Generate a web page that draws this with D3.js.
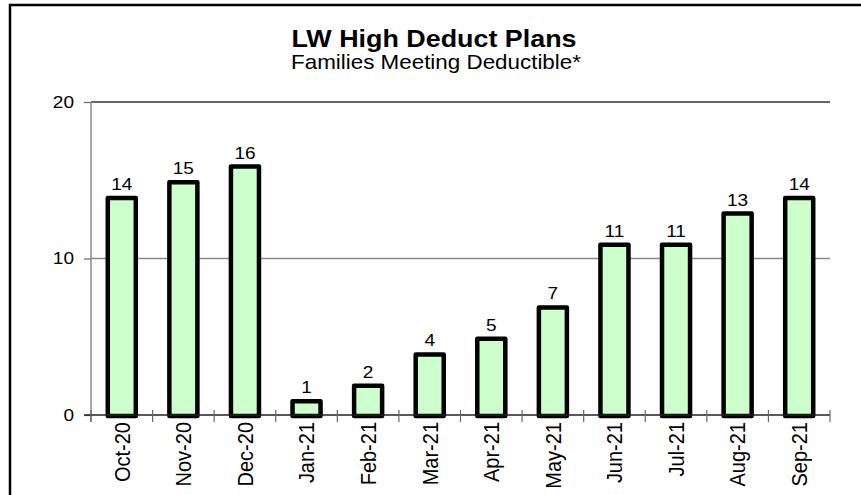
<!DOCTYPE html>
<html>
<head>
<meta charset="utf-8">
<script src="https://cdn.jsdelivr.net/npm/d3@7"></script>
<style>
  body { margin: 0; background: #fff; }
  text { font-family: "Liberation Sans", Arial, sans-serif; fill: #000; }
</style>
</head>
<body>
<div id="chart"></div>
<script>
// data
const months = ["Oct-20", "Nov-20", "Dec-20", "Jan-21", "Feb-21", "Mar-21",
                "Apr-21", "May-21", "Jun-21", "Jul-21", "Aug-21", "Sep-21"];
const families = [14, 15, 16, 1, 2, 4, 5, 7, 11, 11, 13, 14];
const yTicks = [0, 10, 20];

const titleText = "LW High Deduct Plans";
const subtitleText = "Families Meeting Deductible*";

const svgWidth = 861;
const svgHeight = 495;
const margin = { top: 102, right: 31, bottom: 80, left: 91 };
const width = svgWidth - margin.left - margin.right;
const height = svgHeight - margin.top - margin.bottom;
const barFill = "#ccffcc";
const stretch = 1.12; // text in the reference is a bit wider than tall

const root = d3.select("#chart")
  .append("svg")
  .attr("width", svgWidth)
  .attr("height", svgHeight);

// outer chart frame (right/bottom edges run off the picture)
root.append("rect")
  .attr("x", 10).attr("y", 5)
  .attr("width", svgWidth + 20).attr("height", svgHeight + 20)
  .attr("fill", "none")
  .attr("stroke", "#000")
  .attr("stroke-width", 2.5);

// ---- titles ----
root.append("text")
  .attr("transform", `translate(434,47) scale(${stretch},1)`)
  .attr("text-anchor", "middle")
  .style("font-size", "24px")
  .style("font-weight", "bold")
  .text(titleText);

root.append("text")
  .attr("transform", `translate(436,69) scale(${stretch},1)`)
  .attr("text-anchor", "middle")
  .style("font-size", "20px")
  .text(subtitleText);

const svg = root.append("g")
  .attr("transform", `translate(${margin.left},${margin.top})`);

const xScale = d3.scaleBand()
  .domain(months)
  .range([0, width])
  .paddingInner(0.48)
  .paddingOuter(0.24);

const yScale = d3.scaleLinear()
  .domain([0, 20])
  .range([height, 0]);

const step = xScale.step();

// gridlines
svg.selectAll(".grid")
  .data(yTicks.filter(d => d > 0))
  .enter()
  .append("line")
  .attr("class", "grid")
  .attr("x1", 0).attr("x2", width)
  .attr("y1", d => yScale(d)).attr("y2", d => yScale(d))
  .attr("stroke", d => d === 20 ? "#333" : "#888")
  .attr("stroke-width", 1.5);

// y axis
const yAxis = d3.axisLeft(yScale)
  .tickValues(yTicks)
  .tickSize(7)
  .tickPadding(7);

const yG = svg.append("g").attr("class", "y-axis").call(yAxis);
yG.select(".domain").remove();
yG.selectAll(".tick line").attr("stroke", "#666").attr("stroke-width", 1.2);
yG.selectAll(".tick text")
  .attr("x", null)
  .attr("transform", `translate(-17,0) scale(${stretch},1)`)
  .style("font-size", "17px")
  .attr("fill", "#000");

svg.append("line")
  .attr("x1", 0).attr("x2", 0)
  .attr("y1", yScale(20)).attr("y2", height + 7)
  .attr("stroke", "#888")
  .attr("stroke-width", 1.5);

// bars
svg.selectAll(".bar")
  .data(families)
  .enter()
  .append("rect")
  .attr("class", "bar")
  .attr("x", (d, i) => xScale(months[i]) + 2)
  .attr("width", xScale.bandwidth() - 4)
  .attr("y", d => yScale(d) + 2)
  .attr("height", d => height - yScale(d) - 1)
  .attr("fill", barFill)
  .attr("stroke", "#000")
  .attr("stroke-width", 4.5)
  .attr("stroke-linejoin", "round");

// value labels
svg.selectAll(".value")
  .data(families)
  .enter()
  .append("text")
  .attr("class", "value")
  .attr("transform", (d, i) =>
    `translate(${xScale(months[i]) + xScale.bandwidth() / 2},${yScale(d) - 6}) scale(${stretch},1)`)
  .attr("text-anchor", "middle")
  .style("font-size", "17px")
  .text(d => d);

// x axis line and category boundary ticks
svg.append("line")
  .attr("x1", -7).attr("x2", width)
  .attr("y1", height).attr("y2", height)
  .attr("stroke", "#222")
  .attr("stroke-width", 1.5);

svg.selectAll(".cat-tick")
  .data(d3.range(months.length + 1))
  .enter()
  .append("line")
  .attr("class", "cat-tick")
  .attr("x1", i => i * step).attr("x2", i => i * step)
  .attr("y1", height - 5).attr("y2", height + 7)
  .attr("stroke", "#666")
  .attr("stroke-width", 1.2);

// category labels
const xAxis = d3.axisBottom(xScale).tickSize(0);
const xG = svg.append("g")
  .attr("class", "x-axis")
  .attr("transform", `translate(0,${height})`)
  .call(xAxis);
xG.select(".domain").remove();
xG.selectAll(".tick text")
  .attr("y", null)
  .attr("dy", "0.35em")
  .attr("text-anchor", "end")
  .attr("transform", `translate(0,7) scale(${stretch},1) rotate(-90)`)
  .style("font-size", "20px")
  .attr("fill", "#000");
</script>
</body>
</html>
